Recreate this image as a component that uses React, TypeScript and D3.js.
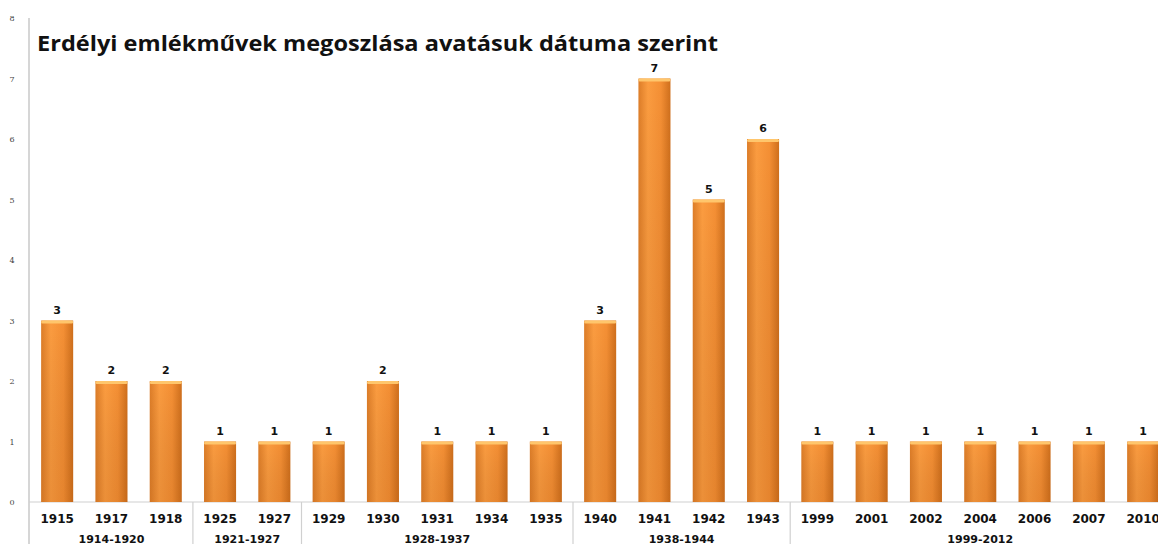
import React, { useEffect, useRef } from 'react';
import * as d3 from 'd3';

const years = ['1915', '1917', '1918', '1925', '1927', '1929', '1930', '1931', '1934', '1935', '1940', '1941', '1942', '1943', '1999', '2001', '2002', '2004', '2006', '2007', '2010'];
const counts = [3, 2, 2, 1, 1, 1, 2, 1, 1, 1, 3, 7, 5, 6, 1, 1, 1, 1, 1, 1, 1];
const groups = ['1914-1920', '1921-1927', '1928-1937', '1938-1944', '1999-2012'];
const groupSizes = [3, 2, 5, 4, 7];
const yTicks = [0, 1, 2, 3, 4, 5, 6, 7, 8];

const App = () => {
  const svgRef = useRef<SVGSVGElement>(null);

  useEffect(() => {
    const svg = d3.select(svgRef.current);
    svg.selectAll('*').remove();

    const width = 1158;
    const height = 544;
    const left = 30;
    const band = 54.3;
    const labelFont = 'DejaVu Sans';

    const x = d3.scaleBand()
      .domain(years)
      .range([left, left + band * years.length])
      .paddingInner(0.41)
      .paddingOuter(0.205);

    const y = d3.scaleLinear().domain([0, 8]).range([502, 18]);

    const defs = svg.append('defs');
    const grad = defs.append('linearGradient').attr('id', 'barGrad')
      .attr('x1', '0%').attr('x2', '100%').attr('y1', '0%').attr('y2', '0%');
    grad.append('stop').attr('offset', '0%').attr('stop-color', '#dd7d28');
    grad.append('stop').attr('offset', '30%').attr('stop-color', '#fb9c40');
    grad.append('stop').attr('offset', '70%').attr('stop-color', '#f48f34');
    grad.append('stop').attr('offset', '100%').attr('stop-color', '#cf6f1c');

    // darker toward the bottom
    const shade = defs.append('linearGradient').attr('id', 'barShade')
      .attr('x1', '0%').attr('x2', '0%').attr('y1', '0%').attr('y2', '100%');
    shade.append('stop').attr('offset', '0%').attr('stop-color', '#000').attr('stop-opacity', 0);
    shade.append('stop').attr('offset', '100%').attr('stop-color', '#7a3500').attr('stop-opacity', 0.12);

    const g = svg.append('g');

    // y axis
    g.append('line')
      .attr('x1', left - 1).attr('x2', left - 1)
      .attr('y1', y(8)).attr('y2', height)
      .attr('stroke', '#c8c8c8').attr('stroke-width', 1.5);

    g.selectAll('.ytick')
      .data(yTicks)
      .enter()
      .append('text')
      .attr('x', 12)
      .attr('y', d => y(d) + 3)
      .attr('text-anchor', 'middle')
      .style('font-family', 'DejaVu Serif')
      .style('font-size', '8px')
      .style('fill', '#444')
      .text(d => d);

    // baseline
    g.append('line')
      .attr('x1', left - 1).attr('x2', width)
      .attr('y1', y(0)).attr('y2', y(0))
      .attr('stroke', '#d0d0d0').attr('stroke-width', 1.2);

    // bars
    const bars = g.selectAll('.bar')
      .data(years)
      .enter()
      .append('g');

    bars.append('rect')
      .attr('x', d => x(d))
      .attr('y', (d, i) => y(counts[i]))
      .attr('width', x.bandwidth())
      .attr('height', (d, i) => y(0) - y(counts[i]))
      .attr('fill', 'url(#barGrad)');

    bars.append('rect')
      .attr('x', d => x(d))
      .attr('y', (d, i) => y(counts[i]))
      .attr('width', x.bandwidth())
      .attr('height', (d, i) => y(0) - y(counts[i]))
      .attr('fill', 'url(#barShade)');

    bars.append('rect')
      .attr('x', d => x(d))
      .attr('y', (d, i) => y(counts[i]))
      .attr('width', x.bandwidth())
      .attr('height', 3)
      .attr('rx', 1.5)
      .attr('fill', '#ffc66c');

    bars.append('text')
      .attr('x', d => x(d) + x.bandwidth() / 2)
      .attr('y', (d, i) => y(counts[i]) - 7)
      .attr('text-anchor', 'middle')
      .style('font-family', labelFont)
      .style('font-weight', 'bold')
      .style('font-size', '11px')
      .style('fill', '#111')
      .text((d, i) => counts[i]);

    // year labels
    g.selectAll('.year')
      .data(years)
      .enter()
      .append('text')
      .attr('x', d => x(d) + x.bandwidth() / 2)
      .attr('y', 523)
      .attr('text-anchor', 'middle')
      .style('font-family', labelFont)
      .style('font-weight', 'bold')
      .style('font-size', '12px')
      .style('fill', '#111')
      .text(d => d);

    // group labels and separators
    let start = 0;
    groups.forEach((name, gi) => {
      const n = groupSizes[gi];
      const x0 = left + start * band;
      const x1 = left + (start + n) * band;
      if (gi < groups.length - 1) {
        g.append('line')
          .attr('x1', x1).attr('x2', x1)
          .attr('y1', y(0)).attr('y2', height)
          .attr('stroke', '#d0d0d0').attr('stroke-width', 1.2);
      }
      g.append('text')
        .attr('x', (x0 + x1) / 2)
        .attr('y', 543)
        .attr('text-anchor', 'middle')
        .style('font-family', labelFont)
        .style('font-weight', 'bold')
        .style('font-size', '11px')
        .style('fill', '#111')
        .text(name);
      start += n;
    });

    // title
    svg.append('text')
      .attr('x', 37)
      .attr('y', 51)
      .attr('textLength', 681)
      .attr('lengthAdjust', 'spacingAndGlyphs')
      .style('font-family', 'Open Sans')
      .style('font-weight', 'bold')
      .style('font-size', '21px')
      .style('fill', '#111')
      .text('Erdélyi emlékművek megoszlása avatásuk dátuma szerint');
  }, []);

  return (
    <svg
      ref={svgRef}
      width={1158}
      height={544}
      style={{ position: 'absolute', left: 0, top: 0, display: 'block', background: '#fff' }}
    />
  );
};

export default App;
